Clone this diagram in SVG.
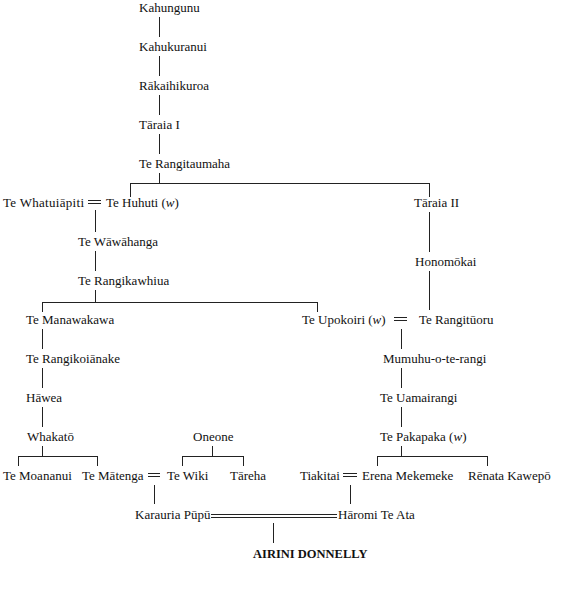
<svg xmlns="http://www.w3.org/2000/svg" width="580" height="602" viewBox="0 0 580 602">
<style>
text{font-family:"Liberation Serif","DejaVu Serif",serif;font-size:13px;fill:#111}
.b{font-weight:bold;font-size:12.5px}
.i{font-style:italic}
#connectors line{stroke:#222;stroke-width:1;fill:none}
</style>
<rect width="580" height="602" fill="#fff"/>
<g id="connectors">
<line x1="159.5" y1="17" x2="159.5" y2="37"/>
<line x1="159.5" y1="56" x2="159.5" y2="76"/>
<line x1="159.5" y1="95" x2="159.5" y2="115"/>
<line x1="159.5" y1="134" x2="159.5" y2="154"/>
<line x1="159.5" y1="173" x2="159.5" y2="183.5"/>
<line x1="130" y1="183.5" x2="430" y2="183.5"/>
<line x1="130.5" y1="183" x2="130.5" y2="197"/>
<line x1="429.5" y1="183" x2="429.5" y2="197"/>
<line x1="88" y1="200.5" x2="101" y2="200.5"/>
<line x1="88" y1="203.5" x2="101" y2="203.5"/>
<line x1="95.5" y1="210" x2="95.5" y2="232"/>
<line x1="95.5" y1="251" x2="95.5" y2="271"/>
<line x1="95.5" y1="290" x2="95.5" y2="302.5"/>
<line x1="42" y1="302.5" x2="318" y2="302.5"/>
<line x1="42.5" y1="302" x2="42.5" y2="312"/>
<line x1="317.5" y1="302" x2="317.5" y2="312"/>
<line x1="429.5" y1="212" x2="429.5" y2="252"/>
<line x1="429.5" y1="271" x2="429.5" y2="310"/>
<line x1="394" y1="317.5" x2="407" y2="317.5"/>
<line x1="394" y1="320.5" x2="407" y2="320.5"/>
<line x1="42.5" y1="329" x2="42.5" y2="349"/>
<line x1="42.5" y1="368" x2="42.5" y2="388"/>
<line x1="42.5" y1="407" x2="42.5" y2="427"/>
<line x1="42.5" y1="446" x2="42.5" y2="456.5"/>
<line x1="18" y1="456.5" x2="98" y2="456.5"/>
<line x1="18.5" y1="456" x2="18.5" y2="466"/>
<line x1="97.5" y1="456" x2="97.5" y2="466"/>
<line x1="212.5" y1="446" x2="212.5" y2="456.5"/>
<line x1="182" y1="456.5" x2="244" y2="456.5"/>
<line x1="182.5" y1="456" x2="182.5" y2="466"/>
<line x1="243.5" y1="456" x2="243.5" y2="466"/>
<line x1="401.5" y1="329" x2="401.5" y2="349"/>
<line x1="401.5" y1="368" x2="401.5" y2="388"/>
<line x1="401.5" y1="407" x2="401.5" y2="427"/>
<line x1="401.5" y1="446" x2="401.5" y2="456.5"/>
<line x1="377" y1="456.5" x2="488" y2="456.5"/>
<line x1="377.5" y1="456" x2="377.5" y2="466"/>
<line x1="487.5" y1="456" x2="487.5" y2="466"/>
<line x1="148" y1="473.5" x2="160" y2="473.5"/>
<line x1="148" y1="476.5" x2="160" y2="476.5"/>
<line x1="343" y1="473.5" x2="357" y2="473.5"/>
<line x1="343" y1="476.5" x2="357" y2="476.5"/>
<line x1="154.5" y1="485" x2="154.5" y2="504"/>
<line x1="350.5" y1="485" x2="350.5" y2="504"/>
<line x1="211" y1="514.5" x2="337" y2="514.5"/>
<line x1="211" y1="517.5" x2="337" y2="517.5"/>
<line x1="273.5" y1="523" x2="273.5" y2="543"/>
</g>
<g id="kahungunu"><text x="139" y="11.5">Kahungunu</text></g>
<g id="kahukuranui"><text x="139" y="50.5">Kahukuranui</text></g>
<g id="rakaihikuroa"><text x="139" y="89.5">Rākaihikuroa</text></g>
<g id="taraia1"><text x="139" y="128.5">Tāraia I</text></g>
<g id="terangitaumaha"><text x="139" y="167.5">Te Rangitaumaha</text></g>
<g id="tewhatuiapiti"><text x="3" y="207" textLength="81" lengthAdjust="spacing">Te Whatuiāpiti</text></g>
<g id="tehuhuti"><text x="106" y="207">Te Huhuti (<tspan class="i">w</tspan>)</text></g>
<g id="taraia2"><text x="414" y="207">Tāraia II</text></g>
<g id="tewawahanga"><text x="78" y="246">Te Wāwāhanga</text></g>
<g id="honomokai"><text x="415" y="266">Honomōkai</text></g>
<g id="terangikawhiua"><text x="78" y="285">Te Rangikawhiua</text></g>
<g id="temanawakawa"><text x="26" y="324">Te Manawakawa</text></g>
<g id="teupokoiri"><text x="302" y="324">Te Upokoiri (<tspan class="i">w</tspan>)</text></g>
<g id="terangituoru"><text x="419" y="324">Te Rangitūoru</text></g>
<g id="terangikoianake"><text x="26" y="363">Te Rangikoiānake</text></g>
<g id="mumuhu"><text x="383" y="363">Mumuhu-o-te-rangi</text></g>
<g id="hawea"><text x="26" y="402">Hāwea</text></g>
<g id="teuamairangi"><text x="380" y="402">Te Uamairangi</text></g>
<g id="whakato"><text x="27" y="441">Whakatō</text></g>
<g id="oneone"><text x="193" y="441">Oneone</text></g>
<g id="tepakapaka"><text x="380" y="441">Te Pakapaka (<tspan class="i">w</tspan>)</text></g>
<g id="temoananui"><text x="3" y="480">Te Moananui</text></g>
<g id="tematenga"><text x="82" y="480">Te Mātenga</text></g>
<g id="tewiki"><text x="167" y="480">Te Wiki</text></g>
<g id="tareha"><text x="230" y="480">Tāreha</text></g>
<g id="tiakitai"><text x="300" y="480">Tiakitai</text></g>
<g id="erena"><text x="362" y="480">Erena Mekemeke</text></g>
<g id="renata"><text x="468" y="480">Rēnata Kawepō</text></g>
<g id="karauria"><text x="135" y="519">Karauria Pūpū</text></g>
<g id="haromi"><text x="338" y="519">Hāromi Te Ata</text></g>
<g id="airini"><text class="b" x="253" y="558">AIRINI DONNELLY</text></g>
</svg>
